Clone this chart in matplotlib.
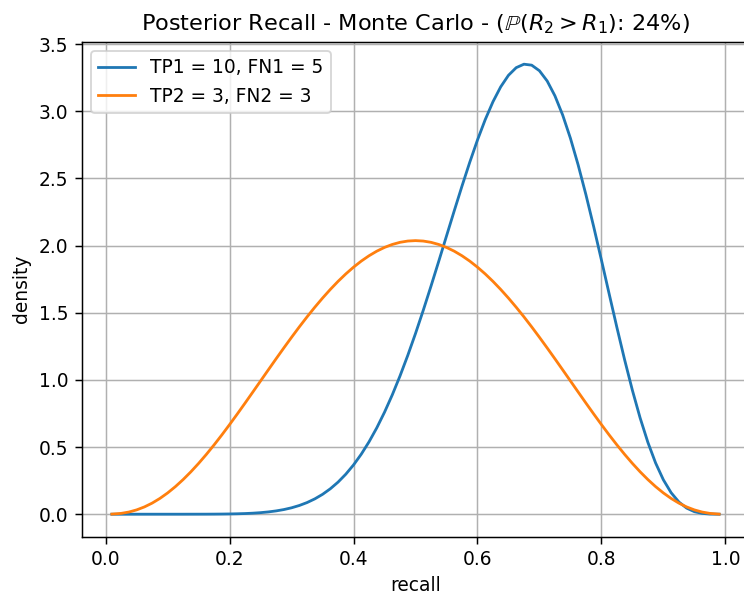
import matplotlib
matplotlib.use("Agg")
import matplotlib.pyplot as plt

# recall grid and the two posterior density curves
recall = [0.01, 0.025, 0.0375, 0.05, 0.0625, 0.075, 0.0875, 0.1, 0.1125, 0.125,
          0.1375, 0.15, 0.1625, 0.175, 0.1875, 0.2, 0.2125, 0.225, 0.2375, 0.25,
          0.2625, 0.275, 0.2875, 0.3, 0.3125, 0.325, 0.3375, 0.35, 0.3625, 0.375,
          0.3875, 0.4, 0.4125, 0.425, 0.4375, 0.45, 0.4625, 0.475, 0.4875, 0.5,
          0.5125, 0.525, 0.5375, 0.55, 0.5625, 0.575, 0.5875, 0.6, 0.6125, 0.625,
          0.6375, 0.65, 0.6625, 0.675, 0.6875, 0.7, 0.7125, 0.725, 0.7375, 0.75,
          0.7625, 0.775, 0.7875, 0.8, 0.8125, 0.825, 0.8375, 0.85, 0.8625, 0.875,
          0.8875, 0.9, 0.9125, 0.925, 0.9375, 0.95, 0.9625, 0.975, 0.99]

density_1 = [0.0, 0.0, 0.0, 0.0, 0.0, 0.0, 0.0, 0.0, 0.0, 0.0,
             0.0001, 0.0002, 0.0003, 0.0006, 0.0011, 0.0019, 0.0031, 0.0049, 0.0076, 0.0115,
             0.0170, 0.0245, 0.0345, 0.0477, 0.0649, 0.0867, 0.1141, 0.1479, 0.1892, 0.2388,
             0.2978, 0.3669, 0.4471, 0.5389, 0.6429, 0.7594, 0.8883, 1.0295, 1.1822, 1.3455,
             1.5181, 1.6981, 1.8832, 2.0712, 2.2588, 2.4429, 2.6199, 2.7862, 2.9379, 3.0712,
             3.1824, 3.2681, 3.3251, 3.3509, 3.3437, 3.3021, 3.2258, 3.1154, 2.9725, 2.7997,
             2.6006, 2.3796, 2.1420, 1.8936, 1.6411, 1.3909, 1.1495, 0.9230, 0.7168, 0.5351,
             0.3811, 0.2562, 0.1602, 0.0911, 0.0456, 0.0189, 0.0059, 0.0011, 0.0]

density_2 = [0.0006, 0.0061, 0.0161, 0.0321, 0.0542, 0.0826, 0.1174, 0.1584, 0.2053, 0.2579,
             0.3157, 0.3784, 0.4454, 0.5163, 0.5905, 0.6676, 0.7468, 0.8277, 0.9098, 0.9924,
             1.0750, 1.1571, 1.2380, 1.3174, 1.3948, 1.4695, 1.5411, 1.6093, 1.6736, 1.7337,
             1.7891, 1.8395, 1.8848, 1.9245, 1.9586, 1.9866, 2.0086, 2.0245, 2.0340, 2.0372,
             2.0340, 2.0245, 2.0086, 1.9866, 1.9586, 1.9245, 1.8848, 1.8395, 1.7891, 1.7337,
             1.6736, 1.6093, 1.5411, 1.4695, 1.3948, 1.3174, 1.2380, 1.1571, 1.0750, 0.9924,
             0.9098, 0.8277, 0.7468, 0.6676, 0.5905, 0.5163, 0.4454, 0.3784, 0.3157, 0.2579,
             0.2053, 0.1584, 0.1174, 0.0826, 0.0542, 0.0321, 0.0161, 0.0061, 0.0006]

labels = ["TP1 = 10, FN1 = 5", "TP2 = 3, FN2 = 3"]

dpi = 134
fig = plt.figure(figsize=(744 / dpi, 596 / dpi), dpi=dpi)
ax = fig.add_axes([81.5 / 744, 59.3 / 596, 668 / 744, 495 / 596])

ax.plot(recall, density_1, label=labels[0])
ax.plot(recall, density_2, label=labels[1])

ax.set_title(r"Posterior Recall - Monte Carlo - ($\mathbb{P}(R_2 > R_1)$: 24%)")
ax.set_xlabel("recall")
ax.set_ylabel("density")
ax.grid(True)
ax.legend(loc="upper left")

fig.savefig("out.png", dpi=dpi)
